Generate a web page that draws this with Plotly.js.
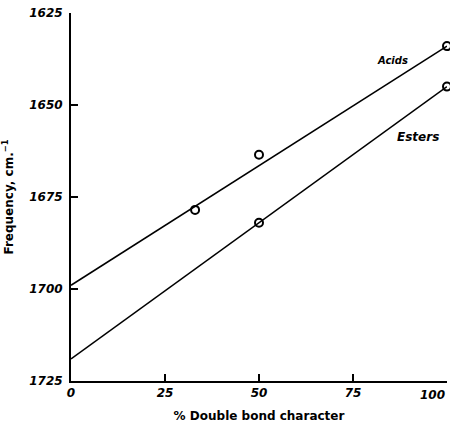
<!DOCTYPE html>
<html><head><meta charset="utf-8">
<script src="https://cdn.plot.ly/plotly-3.0.1.min.js"></script>
<style>html,body{margin:0;padding:0;background:#fff}</style>
</head><body><div id="chart" style="width:450px;height:432px"></div>
<script>
// Measured points
const acidsX = [33, 50, 100];
const acidsY = [1678.5, 1663.5, 1634];
const estersX = [50, 100];
const estersY = [1682, 1645];
// Fitted straight lines
const acidsLineX = [0, 100];
const acidsLineY = [1699, 1634];
const estersLineX = [0, 100];
const estersLineY = [1719, 1645];
const xTicks = [0, 25, 50, 75, 100];
const yTicks = [1625, 1650, 1675, 1700, 1725];

const lineStyle = {color: '#000', width: 1.6};
const markerStyle = {symbol: 'circle-open', size: 8, color: '#000', line: {width: 2, color: '#000'}};

const data = [
  {x: acidsLineX, y: acidsLineY, mode: 'lines', line: lineStyle, hoverinfo: 'skip', cliponaxis: false},
  {x: estersLineX, y: estersLineY, mode: 'lines', line: lineStyle, hoverinfo: 'skip', cliponaxis: false},
  {x: acidsX, y: acidsY, mode: 'markers', marker: markerStyle, name: 'Acids', cliponaxis: false},
  {x: estersX, y: estersY, mode: 'markers', marker: markerStyle, name: 'Esters', cliponaxis: false}
];

const tickFont = {family: 'DejaVu Sans', size: 12, color: '#000', weight: 'bold', style: 'italic'};
const lastX = xTicks[xTicks.length - 1];

const layout = {
  width: 450, height: 432,
  margin: {l: 71, r: 3, t: 13, b: 51},
  showlegend: false,
  paper_bgcolor: '#fff', plot_bgcolor: '#fff',
  xaxis: {
    range: [0, 100], tickvals: xTicks,
    ticktext: xTicks.map(v => v === lastX ? '' : String(v)),
    ticks: 'inside', ticklen: 7, tickwidth: 1.5, tickcolor: '#000',
    showline: true, linecolor: '#000', linewidth: 2, showgrid: false, zeroline: false,
    tickfont: tickFont,
    title: {text: '% Double bond character', font: {family: 'DejaVu Sans', size: 12, color: '#000', weight: 'bold'}, standoff: 12}
  },
  yaxis: {
    range: [1725, 1625], tickvals: yTicks, ticktext: yTicks.map(String),
    ticks: 'inside', ticklen: 7, tickwidth: 1.5, tickcolor: '#000',
    showline: true, linecolor: '#000', linewidth: 2, showgrid: false, zeroline: false,
    tickfont: tickFont, ticklabelstandoff: 4,
    title: {text: 'Frequency, cm.<sup>−1</sup>', font: {family: 'DejaVu Sans', size: 12, color: '#000', weight: 'bold'}, standoff: 14}
  },
  annotations: [
    {x: lastX, y: 0, xref: 'x', yref: 'paper', xanchor: 'right', yanchor: 'top', yshift: -5,
     text: String(lastX), showarrow: false, font: tickFont},
    {x: 85.6, y: 1637.8, xref: 'x', yref: 'y', text: 'Acids', showarrow: false,
     font: {family: 'DejaVu Sans', size: 10, color: '#000', weight: 'bold', style: 'italic'}},
    {x: 92.3, y: 1658.7, xref: 'x', yref: 'y', text: 'Esters', showarrow: false,
     font: {family: 'DejaVu Sans', size: 12, color: '#000', weight: 'bold', style: 'italic'}}
  ]
};

Plotly.newPlot('chart', data, layout, {displayModeBar: false, staticPlot: true});
</script></body></html>
